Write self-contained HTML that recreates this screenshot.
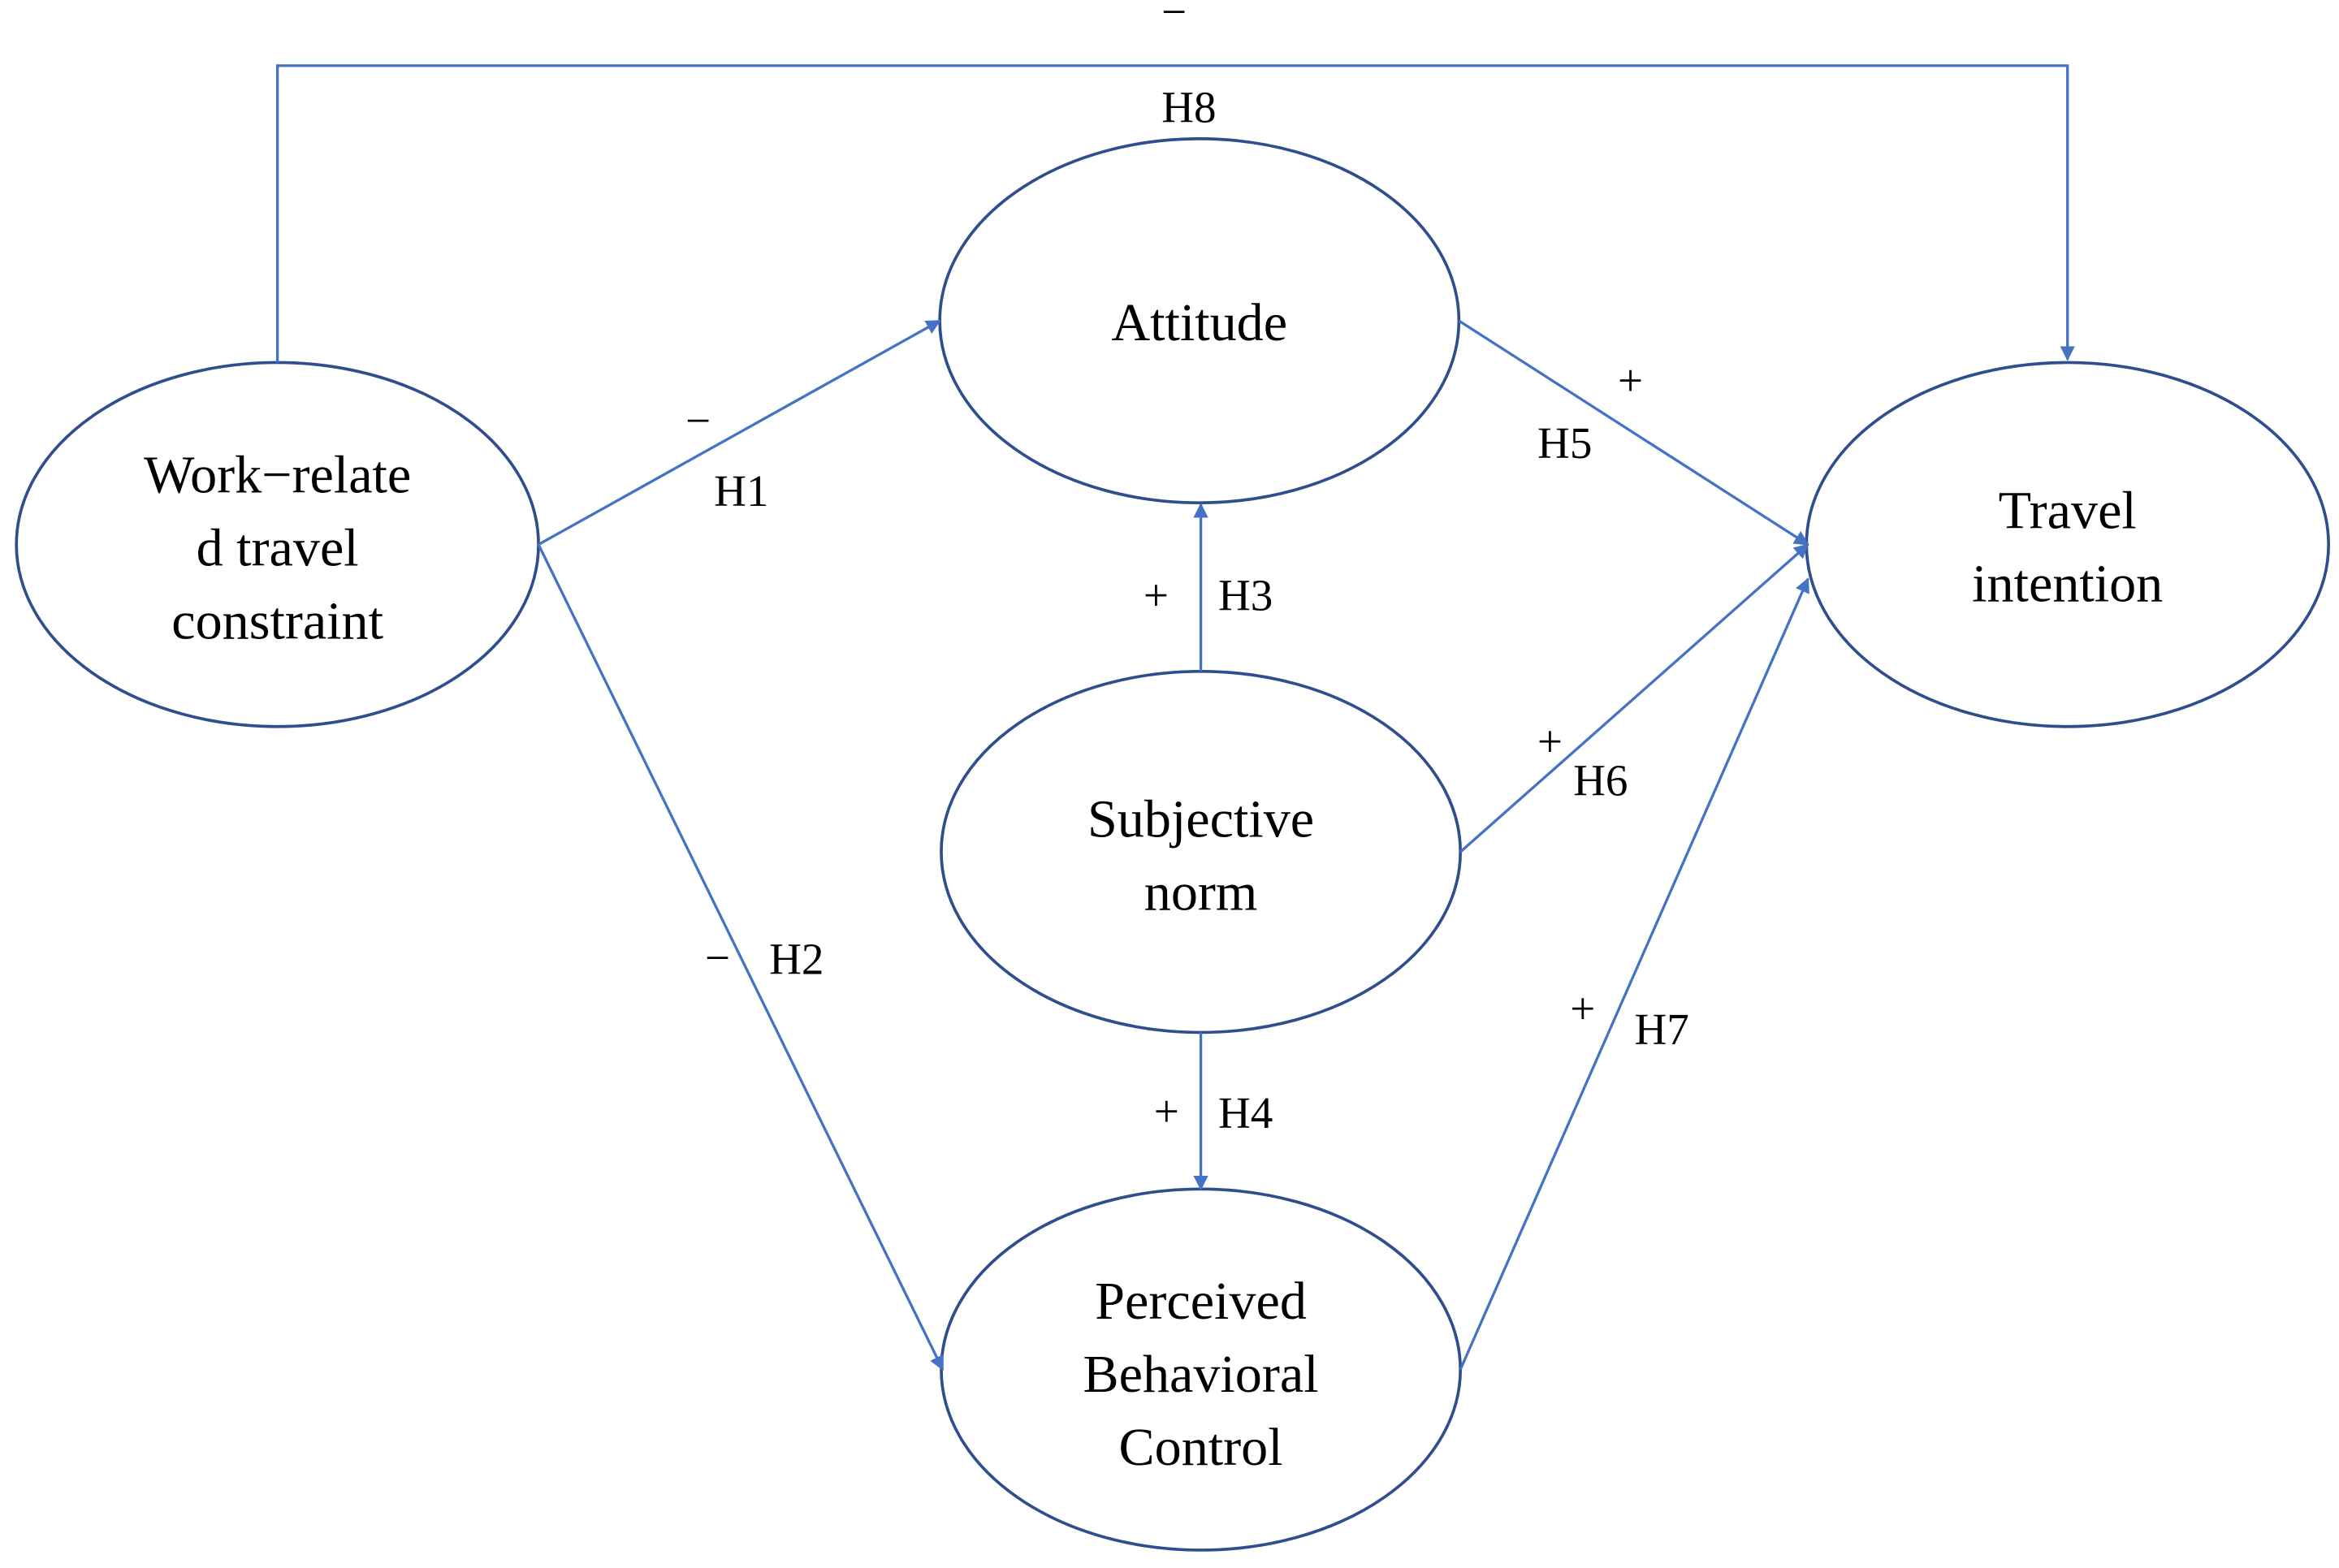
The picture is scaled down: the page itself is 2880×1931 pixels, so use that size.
<!DOCTYPE html>
<html><head><meta charset="utf-8"><style>
html,body{margin:0;padding:0;background:#fff;}
svg{display:block;}
text{font-family:"Liberation Serif",serif;fill:#000;}
</style></head><body>
<svg width="2880" height="1931" viewBox="0 0 1568 1051" preserveAspectRatio="none" xmlns="http://www.w3.org/2000/svg">
<defs>
<marker id="a" markerWidth="10" markerHeight="10" refX="9" refY="5" orient="auto" markerUnits="userSpaceOnUse">
<path d="M0,0 L10,5 L0,10 z" fill="#4472C4"/>
</marker>
</defs>
<g fill="none" stroke="#2F4E8E" stroke-width="2">
<ellipse cx="186" cy="365" rx="175" ry="122"/>
<ellipse cx="804" cy="215" rx="174" ry="122"/>
<ellipse cx="1386" cy="365" rx="175" ry="122"/>
<ellipse cx="805" cy="571" rx="174" ry="121"/>
<ellipse cx="805" cy="918" rx="174" ry="121"/>
</g>
<g fill="none" stroke="#4472C4" stroke-width="1.8">
<polyline points="186,243 186,44 1386,44 1386,241" marker-end="url(#a)"/>
<line x1="361" y1="365" x2="630" y2="215" marker-end="url(#a)"/>
<line x1="361" y1="365" x2="632" y2="918" marker-end="url(#a)"/>
<line x1="805" y1="450" x2="805" y2="338" marker-end="url(#a)"/>
<line x1="805" y1="692" x2="805" y2="797" marker-end="url(#a)"/>
<line x1="978" y1="215" x2="1212" y2="365" marker-end="url(#a)"/>
<line x1="979" y1="571" x2="1212" y2="365" marker-end="url(#a)"/>
<line x1="979" y1="918" x2="1212" y2="388" marker-end="url(#a)"/>
</g>
<g font-size="36" text-anchor="middle">
<text x="186" y="330">Work−relate</text>
<text x="186" y="379">d travel</text>
<text x="186" y="428">constraint</text>
<text x="804" y="228">Attitude</text>
<text x="1386" y="354">Travel</text>
<text x="1386" y="403">intention</text>
<text x="805" y="561">Subjective</text>
<text x="805" y="610">norm</text>
<text x="805" y="884">Perceived</text>
<text x="805" y="933">Behavioral</text>
<text x="805" y="982">Control</text>
</g>
<g font-size="30" text-anchor="middle">
<text x="787" y="18">−</text>
<text x="797" y="82">H8</text>
<text x="468" y="292">−</text>
<text x="497" y="339">H1</text>
<text x="481" y="652">−</text>
<text x="534" y="653">H2</text>
<text x="775" y="409">+</text>
<text x="835" y="409">H3</text>
<text x="782" y="755">+</text>
<text x="835" y="756">H4</text>
<text x="1093" y="265">+</text>
<text x="1049" y="307">H5</text>
<text x="1039" y="507">+</text>
<text x="1073" y="533">H6</text>
<text x="1061" y="686">+</text>
<text x="1114" y="700">H7</text>
</g>
</svg>
</body></html>
